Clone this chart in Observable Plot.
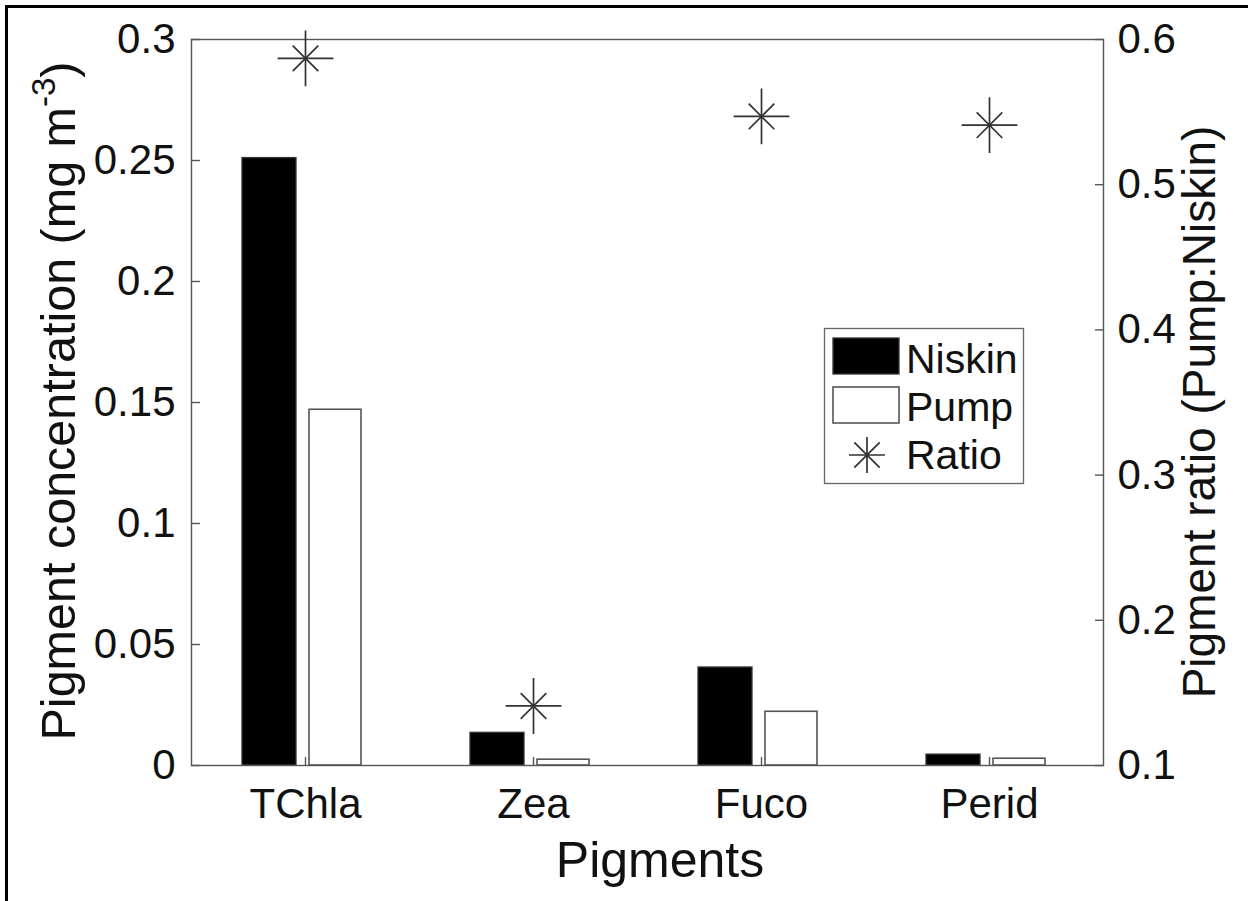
<!DOCTYPE html>
<html>
<head>
<meta charset="utf-8">
<script src="https://cdn.jsdelivr.net/npm/d3@7"></script>
<script src="https://cdn.jsdelivr.net/npm/@observablehq/plot@0.6"></script>
<style>
  html, body { margin: 0; padding: 0; background: white; }
  svg { display: block; }
</style>
</head>
<body>
<div id="chart"></div>
<script>
// ---- data ----
const categories = ["TChla", "Zea", "Fuco", "Perid"];
const niskin = [0.251, 0.0135, 0.0405, 0.0045];
const pump = [0.147, 0.0024, 0.0222, 0.0028];
const ratio = [0.587, 0.141, 0.547, 0.541];
const leftTicks = [0, 0.05, 0.1, 0.15, 0.2, 0.25, 0.3];
const rightTicks = [0.1, 0.2, 0.3, 0.4, 0.5, 0.6];
const seriesNames = ["Niskin", "Pump", "Ratio"];
const xLabel = "Pigments";
const yLabelLeft = ["Pigment concentration (mg m", "-3", ")"];
const yLabelRight = "Pigment ratio (Pump:Niskin)";

// map right-axis (ratio) values onto the left-axis domain
const leftDomain = [0, 0.3];
const rightDomain = [0.1, 0.6];
const toLeft = r => leftDomain[0] + (r - rightDomain[0]) * (leftDomain[1] - leftDomain[0]) / (rightDomain[1] - rightDomain[0]);

const rows = categories.map((c, i) => ({c, niskin: niskin[i], pump: pump[i], ratio: ratio[i]}));

const FONT = "'Liberation Sans', Arial, Helvetica, sans-serif";
const AX = "#555";

const chart = Plot.plot({
  width: 1248,
  height: 901,
  marginLeft: 191,
  marginRight: 145,
  marginTop: 39,
  marginBottom: 136,
  style: {fontFamily: FONT, fontSize: "42px", color: "#111", background: "white", overflow: "visible"},
  x: {type: "band", domain: categories, padding: 0, label: null},
  y: {domain: leftDomain, label: null},
  marks: [
    Plot.barY(rows, {x: "c", y: "niskin", fill: "black", stroke: "#333", strokeWidth: 1.3, insetLeft: 51, insetRight: 123}),
    Plot.barY(rows, {x: "c", y: "pump", fill: "white", stroke: AX, strokeWidth: 1.6, insetLeft: 118, insetRight: 58}),
    Plot.frame({stroke: AX, strokeWidth: 1.4}),
    Plot.axisX({tickSize: -8, tickPadding: 31, stroke: AX, strokeWidth: 1.4, fill: "#111", label: null}),
    Plot.axisY({anchor: "left", ticks: leftTicks, tickSize: -9, tickPadding: 25, stroke: AX, strokeWidth: 1.4, fill: "#111",
      tickFormat: d => String(d), label: null}),
    Plot.axisY({anchor: "right", ticks: rightTicks.map(toLeft), tickSize: -9, tickPadding: 23, stroke: AX, strokeWidth: 1.4, fill: "#111",
      tickFormat: (d, i) => String(rightTicks[i]), label: null}),
    Plot.dot(rows, {x: "c", y: d => toLeft(d.ratio), symbol: "plus", r: 18, stroke: "#333", strokeWidth: 1.7}),
    Plot.dot(rows, {x: "c", y: d => toLeft(d.ratio), symbol: "times", r: 11.7, stroke: "#333", strokeWidth: 1.7})
  ]
});

document.getElementById("chart").appendChild(chart);

const svg = d3.select(chart);

// outer frame (cropped figure border)
svg.append("rect").attr("x", 6.5).attr("y", 6.5).attr("width", 1400).attr("height", 1200)
  .attr("fill", "none").attr("stroke", "black").attr("stroke-width", 3);

// axis labels
svg.append("text").attr("x", 660).attr("y", 877).attr("text-anchor", "middle")
  .style("font-family", FONT).style("font-size", "50px").attr("fill", "#111").text(xLabel);

const ll = svg.append("text").attr("transform", "translate(75,401) rotate(-90)").attr("text-anchor", "middle")
  .style("font-family", FONT).style("font-size", "48.5px").attr("fill", "#111");
ll.append("tspan").text(yLabelLeft[0]);
ll.append("tspan").attr("dy", -20).style("font-size", "33px").text(yLabelLeft[1]);
ll.append("tspan").attr("dy", 20).text(yLabelLeft[2]);

svg.append("text").attr("transform", "translate(1215,412) rotate(-90)").attr("text-anchor", "middle")
  .style("font-family", FONT).style("font-size", "46px").attr("fill", "#111").text(yLabelRight);

// legend
const lg = svg.append("g").style("font-family", FONT).style("font-size", "41px");
lg.append("rect").attr("x", 824.5).attr("y", 328.5).attr("width", 199).attr("height", 155)
  .attr("fill", "white").attr("stroke", "#666").attr("stroke-width", 1.3);
lg.append("rect").attr("x", 833).attr("y", 338).attr("width", 66).attr("height", 36)
  .attr("fill", "black").attr("stroke", "#333").attr("stroke-width", 1.3);
lg.append("rect").attr("x", 833).attr("y", 387).attr("width", 66).attr("height", 36)
  .attr("fill", "white").attr("stroke", AX).attr("stroke-width", 1.6);
const sx = 867, sy = 455;
lg.append("path").attr("d", `M${sx - 18},${sy}H${sx + 18}M${sx},${sy - 18}V${sy + 18}M${sx - 12.7},${sy - 12.7}L${sx + 12.7},${sy + 12.7}M${sx - 12.7},${sy + 12.7}L${sx + 12.7},${sy - 12.7}`)
  .attr("stroke", "#333").attr("stroke-width", 1.7).attr("fill", "none");
[373, 421, 469].forEach((y, i) => {
  lg.append("text").attr("x", 906).attr("y", y).attr("text-anchor", "start").attr("fill", "#111").text(seriesNames[i]);
});
</script>
</body>
</html>
